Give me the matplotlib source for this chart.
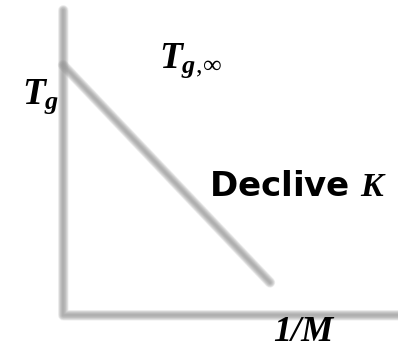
import numpy as np
import matplotlib
matplotlib.use('Agg')
import matplotlib.pyplot as plt

# Glass transition vs. inverse molar mass (Flory-Fox style sketch)
inv_M = [0.0, 1.0]          # 1/M, arbitrary units
Tg = [1.0, 0.13]            # Tg, normalised so Tg(1/M = 0) = Tg,inf

AXIS_X_MAX = 1.65
AXIS_Y_MAX = 1.22

plt.rcParams['mathtext.fontset'] = 'custom'
plt.rcParams['mathtext.it'] = 'Liberation Serif:italic:bold'
plt.rcParams['mathtext.rm'] = 'Liberation Serif'
plt.rcParams['mathtext.bf'] = 'Liberation Serif:bold'

GREY = '#9a9a9a'


def soft_line(ax, x, y, color, core=1.5, spread=9.0, n=12, alpha=0.11):
    """Stack round-capped strokes of shrinking width to get a blurred stroke."""
    for w in np.linspace(core + spread, core, n):
        ax.plot(x, y, color=color, lw=w * 0.72, alpha=alpha,
                solid_capstyle='round', solid_joinstyle='round')


fig = plt.figure(figsize=(3.98, 3.48), dpi=100)
ax = fig.add_axes([0, 0, 1, 1])
ax.set_xlim(-63 / 207, 335 / 207)
ax.set_ylim(-33 / 250, 315 / 250)
ax.axis('off')

# axes drawn as soft grey strokes
soft_line(ax, [0, 0, AXIS_X_MAX], [AXIS_Y_MAX, 0, 0], GREY)
# Tg decreasing linearly with 1/M
soft_line(ax, inv_M, Tg, GREY)

ax.text(-41 / 207, 0.845, r'$T_g$', fontsize=27, color='black',
        ha='left', va='baseline')
ax.text(96 / 207, 0.99, r'$T_{g,\!\infty}$', fontsize=27, color='black',
        ha='left', va='baseline')
ax.text(146 / 207, 0.475, r'Declive $K$', fontsize=24.5, fontweight='bold',
        family='DejaVu Sans', color='black', ha='left', va='baseline')
ax.text(210 / 207, -0.105, '1/M', fontsize=26, color='black',
        family='Liberation Serif', style='italic', fontweight='bold',
        ha='left', va='baseline')

fig.savefig('out.png', dpi=100)
